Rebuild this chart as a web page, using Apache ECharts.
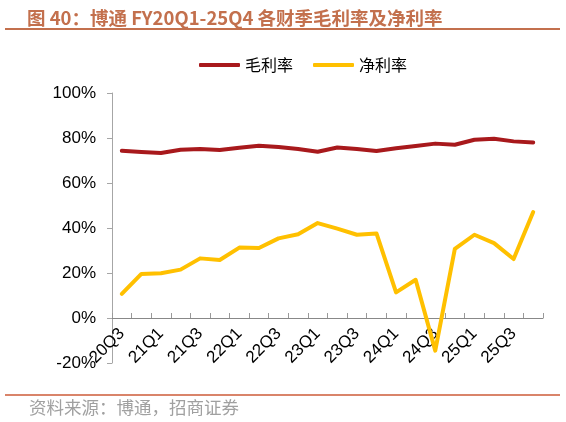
<!DOCTYPE html>
<html>
<head>
<meta charset="utf-8">
<script src="https://cdn.jsdelivr.net/npm/echarts@6/dist/echarts.min.js"></script>
<style>
  html, body { margin: 0; padding: 0; background: #fff; }
  #chart { width: 566px; height: 422px; }
</style>
</head>
<body>
<div id="chart"></div>
<script>
// 财季 20Q3 - 25Q4
var quarters = ["20Q3", "20Q4", "21Q1", "21Q2", "21Q3", "21Q4", "22Q1", "22Q2", "22Q3", "22Q4",
  "23Q1", "23Q2", "23Q3", "23Q4", "24Q1", "24Q2", "24Q3", "24Q4", "25Q1", "25Q2", "25Q3", "25Q4"];
// 毛利率 (%)
var grossMargin = [74.3, 73.8, 73.3, 74.8, 75.1, 74.7, 75.7, 76.6, 76.0, 75.1, 73.9,
  75.8, 75.1, 74.2, 75.4, 76.4, 77.5, 77.0, 79.2, 79.7, 78.5, 78.0];
// 净利率 (%)
var netMargin = [10.7, 19.6, 19.9, 21.5, 26.5, 25.8, 31.3, 31.1, 35.4, 37.2, 42.2,
  39.7, 37.0, 37.6, 11.4, 17.0, -14.5, 30.7, 37.0, 33.3, 26.2, 47.1];
var yTicks = [-20, 0, 20, 40, 60, 80, 100];

var latin = "Liberation Sans, Arial, sans-serif";
var cjk = "Noto Sans CJK SC, sans-serif";
var titleColor = "#C3704D";

var chart = echarts.init(document.getElementById("chart"));
chart.setOption({
  backgroundColor: "#fff",
  animation: false,
  title: {
    text: "图 40：博通 FY20Q1-25Q4 各财季毛利率及净利率",
    left: 22,
    top: 4,
    textStyle: { color: titleColor, fontSize: 18.5, fontWeight: "bold", fontFamily: cjk }
  },
  legend: {
    top: 52,
    left: 194,
    itemWidth: 41,
    itemHeight: 4,
    itemGap: 20,
    icon: "roundRect",
    textStyle: { fontSize: 16, color: "#000", fontFamily: cjk },
    data: ["毛利率", "净利率"]
  },
  grid: { left: 112, right: 23, top: 93, bottom: 59 },
  xAxis: {
    type: "category",
    data: quarters,
    // 轴线放在 0% 处：从底部上移一格（45px）
    offset: -45,
    axisLine: { onZero: false, lineStyle: { color: "#888", width: 1 } },
    axisTick: { show: true, inside: true, length: 5, interval: 0, lineStyle: { color: "#999" } },
    axisLabel: {
      interval: 1,
      rotate: 45,
      margin: 13,
      fontSize: 17,
      color: "#000",
      fontFamily: latin
    },
    splitLine: { show: false }
  },
  yAxis: {
    type: "value",
    min: yTicks[0],
    max: yTicks[yTicks.length - 1],
    interval: 20,
    axisLine: { show: true, lineStyle: { color: "#a6a6a6" } },
    axisTick: { show: true, length: 5, lineStyle: { color: "#a6a6a6" } },
    axisLabel: {
      formatter: "{value}%",
      fontSize: 17,
      color: "#000",
      margin: 16,
      fontFamily: latin
    },
    splitLine: { show: false }
  },
  series: [
    {
      name: "毛利率",
      type: "line",
      data: grossMargin,
      showSymbol: false,
      color: "#A8191C",
      lineStyle: { width: 4, color: "#A8191C", cap: "round", join: "round" }
    },
    {
      name: "净利率",
      type: "line",
      data: netMargin,
      showSymbol: false,
      color: "#FFC000",
      lineStyle: { width: 4, color: "#FFC000", cap: "round", join: "round" }
    }
  ],
  graphic: [
    {
      type: "line",
      shape: { x1: 5, y1: 29, x2: 560, y2: 29 },
      style: { stroke: titleColor, lineWidth: 2 }
    },
    {
      type: "line",
      shape: { x1: 5, y1: 395, x2: 560, y2: 395 },
      style: { stroke: "#D9846A", lineWidth: 2 }
    },
    {
      type: "text",
      left: 29,
      top: 399,
      style: { text: "资料来源：博通，招商证券", fill: "#a0a0a0", font: "17.5px " + cjk }
    }
  ]
});
</script>
</body>
</html>
